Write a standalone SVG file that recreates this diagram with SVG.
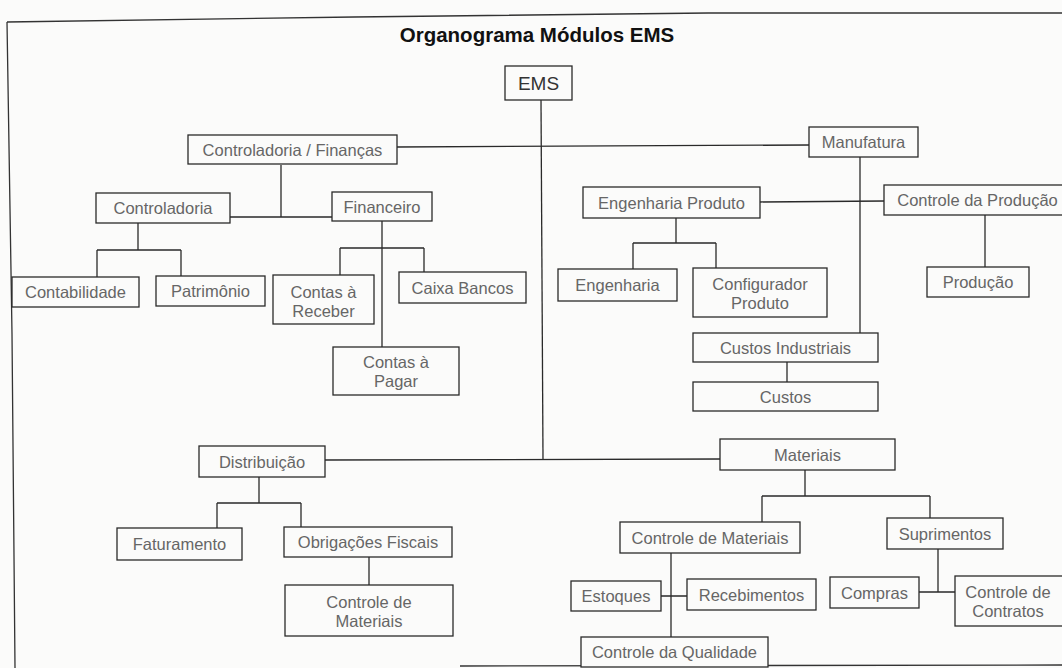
<svg xmlns="http://www.w3.org/2000/svg" width="1062" height="668" viewBox="0 0 1062 668">
<style>
  .bg{fill:#fbfbfa}
  .box{fill:#fbfbfa;stroke:#2a2a2a;stroke-width:1.3}
  .t{font-family:"Liberation Sans",Arial,sans-serif;font-size:16.5px;fill:#666;text-anchor:middle}
  .title{font-family:"Liberation Sans",Arial,sans-serif;font-size:20.5px;font-weight:bold;fill:#111;text-anchor:middle}
  .ems{font-family:"Liberation Sans",Arial,sans-serif;font-size:19px;fill:#333;text-anchor:middle}
  .frame{fill:none;stroke:#333;stroke-width:1.3}
  .c{fill:none;stroke:#2a2a2a;stroke-width:1.3}
</style>
<rect class="bg" x="0" y="0" width="1062" height="668"/>
<g id="frame">
  <path class="frame" d="M7,22 L354,17 L708,13 L1062,13"/>
  <path class="frame" d="M7,22 L12,334 L15,668"/>
  <path class="frame" d="M460,666 L1062,665" stroke="#666"/>
</g>
<text class="title" x="537" y="42">Organograma Módulos EMS</text>
<g id="connectors">
  <path class="c" d="M541,100 L543,459"/>
  <path class="c" d="M397,147 L809,145"/>
  <path class="c" d="M325,460 L720,459"/>
  <path class="c" d="M281,165 L281,217 M230,217 L332,217"/>
  <path class="c" d="M138,223 L138,250 M97,250 L181,250 M97,250 L97,277 M181,250 L181,276"/>
  <path class="c" d="M382,221 L382,347 M340,248 L424,248 M340,248 L340,275 M424,248 L424,272"/>
  <path class="c" d="M860,157 L860,333"/>
  <path class="c" d="M760,202 L884,201"/>
  <path class="c" d="M676,218 L676,243 M633,243 L716,243 M633,243 L633,269 M716,243 L716,268"/>
  <path class="c" d="M985,215 L985,267"/>
  <path class="c" d="M787,362 L787,382"/>
  <path class="c" d="M259,477 L259,503 M217,503 L301,503 M217,503 L217,528 M301,503 L301,527"/>
  <path class="c" d="M369,557 L369,585"/>
  <path class="c" d="M805,470 L805,496 M762,496 L930,496 M762,496 L762,522 M930,496 L930,518"/>
  <path class="c" d="M938,549 L938,592 M919,592 L955,592"/>
  <path class="c" d="M671,553 L671,637 M661,596 L687,596"/>
</g>
<g id="ems"><rect class="box" x="505" y="66" width="67" height="34"/><text class="ems" x="538.5" y="90">EMS</text></g>
<g id="controladoria-financas"><rect class="box" x="188" y="135" width="209" height="29"/><text class="t" x="292.5" y="155.5">Controladoria / Finanças</text></g>
<g id="manufatura"><rect class="box" x="809" y="127" width="109" height="30"/><text class="t" x="863.5" y="148">Manufatura</text></g>
<g id="controladoria"><rect class="box" x="96" y="193" width="134" height="30"/><text class="t" x="163" y="214">Controladoria</text></g>
<g id="financeiro"><rect class="box" x="332" y="192" width="100" height="29"/><text class="t" x="382" y="212.5">Financeiro</text></g>
<g id="contabilidade"><rect class="box" x="12" y="277" width="127" height="30"/><text class="t" x="75.5" y="298">Contabilidade</text></g>
<g id="patrimonio"><rect class="box" x="156" y="276" width="109" height="30"/><text class="t" x="210.5" y="297">Patrimônio</text></g>
<g id="contas-receber"><rect class="box" x="273" y="275" width="101" height="49"/><text class="t" x="323.5" y="297.5">Contas à</text><text class="t" x="323.5" y="316.5">Receber</text></g>
<g id="caixa-bancos"><rect class="box" x="399" y="272" width="127" height="31"/><text class="t" x="462.5" y="293.5">Caixa Bancos</text></g>
<g id="contas-pagar"><rect class="box" x="333" y="347" width="126" height="48"/><text class="t" x="396" y="368">Contas à</text><text class="t" x="396" y="387">Pagar</text></g>
<g id="engenharia-produto"><rect class="box" x="583" y="187" width="177" height="31"/><text class="t" x="671.5" y="208.5">Engenharia Produto</text></g>
<g id="controle-producao"><rect class="box" x="884" y="185" width="191" height="30"/><text class="t" x="977.5" y="206">Controle da Produção</text></g>
<g id="engenharia"><rect class="box" x="558" y="269" width="119" height="32"/><text class="t" x="617.5" y="291">Engenharia</text></g>
<g id="configurador-produto"><rect class="box" x="693" y="268" width="134" height="49"/><text class="t" x="760" y="290">Configurador</text><text class="t" x="760" y="309">Produto</text></g>
<g id="producao"><rect class="box" x="927" y="267" width="102" height="30"/><text class="t" x="978" y="288">Produção</text></g>
<g id="custos-industriais"><rect class="box" x="693" y="333" width="185" height="29"/><text class="t" x="785.5" y="353.5">Custos Industriais</text></g>
<g id="custos"><rect class="box" x="693" y="382" width="185" height="29"/><text class="t" x="785.5" y="402.5">Custos</text></g>
<g id="distribuicao"><rect class="box" x="199" y="446" width="126" height="31"/><text class="t" x="262" y="467.5">Distribuição</text></g>
<g id="faturamento"><rect class="box" x="117" y="528" width="125" height="32"/><text class="t" x="179.5" y="550">Faturamento</text></g>
<g id="obrigacoes-fiscais"><rect class="box" x="284" y="527" width="168" height="30"/><text class="t" x="368" y="548">Obrigações Fiscais</text></g>
<g id="controle-materiais-dist"><rect class="box" x="285" y="585" width="168" height="51"/><text class="t" x="369" y="608">Controle de</text><text class="t" x="369" y="627">Materiais</text></g>
<g id="materiais"><rect class="box" x="720" y="439" width="175" height="31"/><text class="t" x="807.5" y="460.5">Materiais</text></g>
<g id="controle-materiais"><rect class="box" x="620" y="522" width="180" height="31"/><text class="t" x="710" y="543.5">Controle de Materiais</text></g>
<g id="suprimentos"><rect class="box" x="887" y="518" width="116" height="31"/><text class="t" x="945" y="539.5">Suprimentos</text></g>
<g id="estoques"><rect class="box" x="571" y="581" width="90" height="30"/><text class="t" x="616" y="602">Estoques</text></g>
<g id="recebimentos"><rect class="box" x="687" y="579" width="129" height="31"/><text class="t" x="751.5" y="600.5">Recebimentos</text></g>
<g id="controle-qualidade"><rect class="box" x="581" y="637" width="187" height="30"/><text class="t" x="674.5" y="658">Controle da Qualidade</text></g>
<g id="compras"><rect class="box" x="830" y="577" width="89" height="31"/><text class="t" x="874.5" y="598.5">Compras</text></g>
<g id="controle-contratos"><rect class="box" x="955" y="576" width="120" height="50"/><text class="t" x="1008" y="598">Controle de</text><text class="t" x="1008" y="617">Contratos</text></g>
</svg>
